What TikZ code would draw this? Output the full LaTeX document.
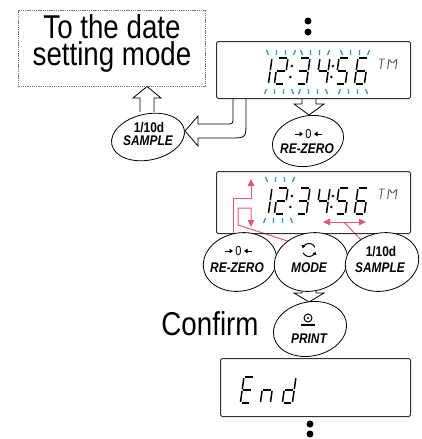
\documentclass[tikz,border=0pt]{standalone}
\usepackage{fontspec}
\usepackage{graphicx}
\setmainfont{Liberation Sans}
\usetikzlibrary{shapes.geometric,arrows.meta,calc}
\pgfdeclarelayer{bg}
\pgfsetlayers{bg,main}
\definecolor{blinkc}{RGB}{45,150,200}
\definecolor{pinkc}{RGB}{228,86,118}
\definecolor{framec}{RGB}{50,50,50}
\definecolor{dashc}{RGB}{120,120,120}
\definecolor{tmc}{RGB}{80,80,80}
\newcommand\nbig[1]{\scalebox{0.84}[1]{#1}}
\newcommand\nsm[1]{\scalebox{0.85}[1]{#1}}
\tikzset{
  lcdseg/.style={line width=1.5pt, line cap=butt, black},
  disp/.style={draw=framec, line width=1pt, rounded corners=1.5pt, inner sep=0pt},
  key/.style={ellipse, draw=black, line width=0.8pt, fill=white, inner sep=0pt, rotate=12},
  keytxt/.style={font=\bfseries\fontsize{14}{14}\selectfont, inner sep=0pt},
  keyname/.style={font=\bfseries\itshape\fontsize{14}{14}\selectfont, inner sep=0pt},
  hollow/.style={draw=black, fill=white, line width=0.8pt, line join=miter},
  pinkline/.style={draw=pinkc, line width=1pt},
  pinktip/.style={-{Triangle[length=7pt,width=6.5pt]}},
  pinkboth/.style={{Triangle[length=7pt,width=6.5pt]}-{Triangle[length=7pt,width=6.5pt]}},
  blink/.style={draw=blinkc, line width=1.3pt},
  dotc/.style={circle, fill=black, inner sep=0pt, minimum size=7pt},
  bigtxt/.style={font=\fontsize{33}{27}\selectfont, align=center, inner sep=0pt},
  symarrow/.style={line width=1pt, -{Triangle[length=3.5pt,width=4.5pt]}}
}
\newcommand\lcdpart[1]{%
  \if a#1\draw[lcdseg] (1.2,0)--(8.8,0);\fi
  \if b#1\draw[lcdseg] (10,1.2)--(10,12.2);\fi
  \if c#1\draw[lcdseg] (10,13.8)--(10,24.8);\fi
  \if d#1\draw[lcdseg] (1.2,26)--(8.8,26);\fi
  \if e#1\draw[lcdseg] (0,13.8)--(0,24.8);\fi
  \if f#1\draw[lcdseg] (0,1.2)--(0,12.2);\fi
  \if g#1\draw[lcdseg] (1.2,13)--(8.8,13);\fi}
\newcommand\lcddigit[3]{\begin{scope}[shift={(#1,#2)},xslant=0.14]\foreach \s in {#3}{\lcdpart{\s}}\end{scope}}
\newcommand\lcdcolon[2]{\begin{scope}[shift={(#1,#2)},xslant=0.14]\fill (0,8) circle (1.4pt); \fill (0,19) circle (1.4pt);\end{scope}}
\newcommand\lcdtm[2]{\begin{scope}[shift={(#1,#2)},xslant=0.14]
  \draw[tmc, line width=0.9pt] (0,0)--(6,0) (3,0)--(3,10);
  \draw[tmc, line width=0.9pt] (10,0)--(10,10) (18,0)--(18,10) (11,1)--(13.5,4) (17,1)--(14.5,4);\end{scope}}
\newcommand\blinkup[2]{\draw[blink] (#1-14.5,#2) -- (#1-12.5,#2+5) (#1-4.5,#2) -- (#1-4.5,#2+5) (#1+4.5,#2) -- (#1+4.5,#2+5) (#1+14.5,#2) -- (#1+12.5,#2+5);}
\newcommand\blinkdown[2]{\draw[blink] (#1-12.5,#2) -- (#1-14.5,#2+5) (#1-4.5,#2) -- (#1-4.5,#2+5) (#1+4.5,#2) -- (#1+4.5,#2+5) (#1+12.5,#2) -- (#1+14.5,#2+5);}
\newcommand\lcdtime[1]{%
  \lcddigit{262}{#1}{b,c}
  \lcddigit{278}{#1}{a,b,g,e,d}
  \lcdcolon{293}{#1}
  \lcddigit{300}{#1}{a,b,g,c,d}
  \lcddigit{320}{#1}{f,g,b,c}
  \lcdcolon{334}{#1}
  \lcddigit{339}{#1}{a,f,g,c,d}
  \lcddigit{358}{#1}{a,f,g,e,d,c}
  \lcdtm{379}{#1+1}}
\begin{document}
\begin{tikzpicture}[x=1pt,y=-1pt]
\useasboundingbox (0,0) rectangle (422,439);

% date mode box
\node[draw=dashc, dash pattern=on 1.3pt off 0.9pt, line width=0.8pt, minimum width=187pt, minimum height=76pt, inner sep=0pt] (datebox) at (112,48.5) {};
\node[bigtxt, anchor=north] (datetxt) at (112,14.5) {\nbig{To the date}\\\nbig{setting mode}};

% displays
\node[disp, minimum width=194pt, minimum height=57pt] (d1) at (313.5,70) {};
\node[disp, minimum width=194pt, minimum height=62pt] (d2) at (313.5,202.5) {};
\node[disp, minimum width=190pt, minimum height=58pt] (d3) at (315.5,387.5) {};

% dots
\node[dotc] (dt1) at (308,21) {};
\node[dotc] (dt2) at (308,32) {};
\node[dotc] (db1) at (310,424) {};
\node[dotc] (db2) at (310,434) {};

% LCD contents
\lcdtime{58}
\blinkup{281}{50}\blinkup{315}{50}\blinkup{355}{50}
\blinkdown{279}{89}\blinkdown{313}{89}\blinkdown{353}{89}
\lcdtime{188}
\blinkup{280}{177}
\blinkdown{278}{218}
\lcddigit{244}{377}{a,f,g,e,d}
\lcddigit{264}{377}{g,e,c}
\lcddigit{286}{377}{b,c,d,e,g}

% keys
\node[key, minimum width=74pt, minimum height=46pt] (sam1) at (148,137) {};
\node[keytxt] (sam1a) at (149,128) {\nsm{1/10d}};
\node[keyname] (sam1b) at (148,141) {\nsm{SAMPLE}};

\node[key, minimum width=72pt, minimum height=50pt] (rz1) at (308,141) {};
\node[keytxt, font=\fontsize{13}{13}\selectfont] (rz1a) at (308.5,134) {\nsm{0}};
\draw[symarrow] (295,134) -- (303,134);
\draw[symarrow] (322,134) -- (314,134);
\node[keyname] (rz1b) at (307,149) {\nsm{RE-ZERO}};

\node[key, minimum width=74pt, minimum height=58pt] (rz2) at (240,262) {};
\node[keytxt, font=\fontsize{13}{13}\selectfont] (rz2a) at (238.5,251) {\nsm{0}};
\draw[symarrow] (225,251) -- (233,251);
\draw[symarrow] (252,251) -- (244,251);
\node[keyname] (rz2b) at (237,268) {\nsm{RE-ZERO}};

\node[key, minimum width=74pt, minimum height=58pt] (mode) at (311,262) {};
\draw[line width=1pt, -{Triangle[length=3pt,width=4pt]}] (309,250) ++(25:6.5pt) arc (25:165:6.5pt);
\draw[line width=1pt, -{Triangle[length=3pt,width=4pt]}] (309,250) ++(205:6.5pt) arc (205:345:6.5pt);
\node[keyname] (modeb) at (309,268) {\nsm{MODE}};

\node[key, minimum width=74pt, minimum height=58pt] (sam2) at (382,262) {};
\node[keytxt] (sam2a) at (381,252) {\nsm{1/10d}};
\node[keyname] (sam2b) at (380,268) {\nsm{SAMPLE}};

\node[key, minimum width=74pt, minimum height=54pt] (prt) at (310,329) {};
\draw[line width=1pt] (308,318) circle (4pt);
\fill (308,318) circle (1.2pt);
\draw[line width=1.2pt] (301,325) -- (315,325);
\node[keyname] (prtb) at (309,339) {\nsm{PRINT}};

\node[bigtxt, anchor=base] (confirm) at (210,335) {\nbig{Confirm}};

% connectors
\coordinate (pa) at (233,198);
\coordinate (pup) at (251,198);
\coordinate (puptip) at (251,179);
\coordinate (pm) at (300,245);
\coordinate (pb) at (238,225);
\coordinate (pc) at (238,208);
\coordinate (pdn) at (251,208);
\coordinate (pdntip) at (251,227);
\coordinate (dl) at (323,222);
\coordinate (dr) at (366,222);
\coordinate (dm) at (344,222);

\begin{pgfonlayer}{bg}
  \draw[hollow] (140,112) -- (140,98) -- (133,98) -- (147,86.5) -- (161,98) -- (154,98) -- (154,112);
  \draw[hollow] (302,98.5) -- (302,104) -- (294,104) -- (309,115) -- (324,104) -- (316,104) -- (316,98.5);
  \draw[hollow] (302,288) -- (302,293) -- (294,293) -- (309,302) -- (324,293) -- (316,293) -- (316,288);
  \draw[hollow] (246,98.5) -- (246,122) .. controls (246,138) .. (230,138) -- (198,138) -- (198,146) -- (185,131) -- (198,116) -- (198,124) -- (226,124) .. controls (233,124) .. (233,117) -- (233,98.5);
  \draw[pinkline, pinktip] (rz2.center -| pa) -- (pa) -- (pup) -- (puptip);
  \draw[pinkline, pinktip] (pm) -- (pb) -- (pc) -- (pdn) -- (pdntip);
  \draw[pinkline] (sam2.center) -- (dm);
  \draw[pinkline, pinkboth] (dl) -- (dr);
\end{pgfonlayer}
\end{tikzpicture}
\end{document}
